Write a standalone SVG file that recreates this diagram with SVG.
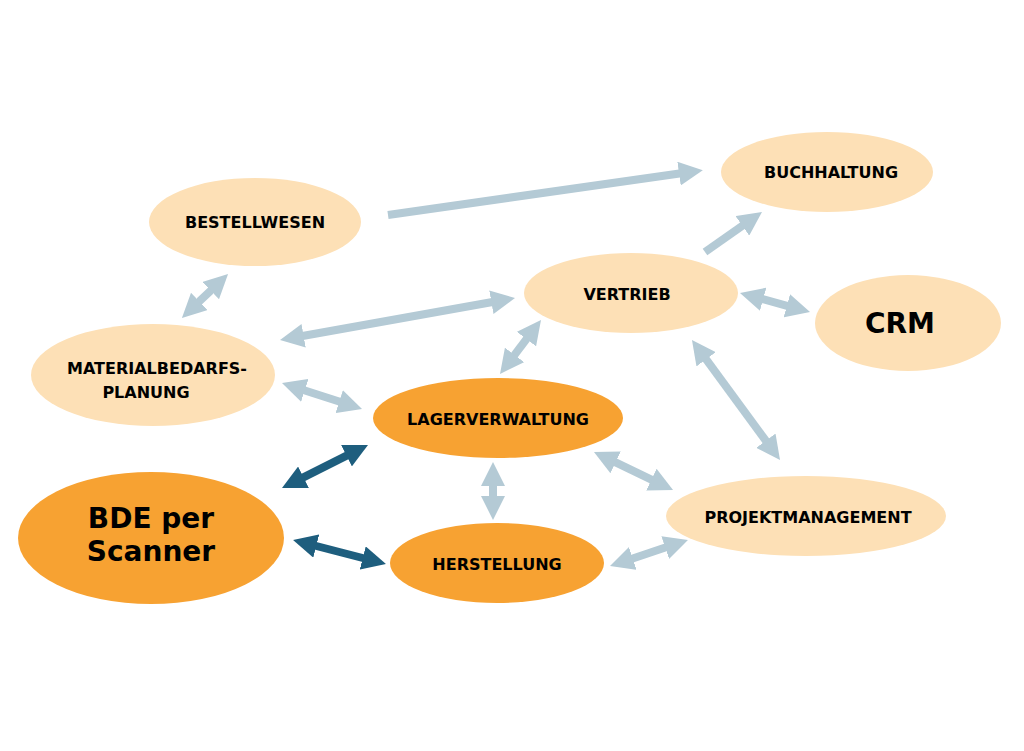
<svg xmlns="http://www.w3.org/2000/svg" width="1024" height="751" viewBox="0 0 1024 751">
<style>
.l{fill:#fde0b6}.o{fill:#f7a232}
text{font-family:"DejaVu Sans",Verdana,sans-serif;font-weight:bold;fill:#000;text-anchor:middle}
.s{font-size:16px}.b{font-size:28px}
.a{stroke:#b4cad5;stroke-width:8;fill:none}
.d{stroke:#1e5e7e;stroke-width:8;fill:none}
</style>
<defs>
<marker id="h" markerUnits="strokeWidth" markerWidth="3" markerHeight="3" viewBox="0 -1.5 3 3" refX="0.5" refY="0" orient="auto-start-reverse"><path d="M0,-1.5L3,0L0,1.5z" fill="#b4cad5"/></marker>
<marker id="hd" markerUnits="strokeWidth" markerWidth="3" markerHeight="3" viewBox="0 -1.5 3 3" refX="0.5" refY="0" orient="auto-start-reverse"><path d="M0,-1.5L3,0L0,1.5z" fill="#1e5e7e"/></marker>
</defs>
<rect width="1024" height="751" fill="#fff"/>
<g id="connectors">
<line class="a" x1="388" y1="215" x2="683" y2="173" marker-end="url(#h)"/>
<line class="a" x1="705" y1="252" x2="745.6" y2="223.5" marker-end="url(#h)"/>
<line class="a" x1="196.4" y1="304.2" x2="213.6" y2="287.8" marker-start="url(#h)" marker-end="url(#h)"/>
<line class="a" x1="299.7" y1="336.5" x2="495.3" y2="301.5" marker-start="url(#h)" marker-end="url(#h)"/>
<line class="a" x1="759.3" y1="298.2" x2="790.7" y2="306.8" marker-start="url(#h)" marker-end="url(#h)"/>
<line class="a" x1="512.1" y1="358.1" x2="528.9" y2="335.9" marker-start="url(#h)" marker-end="url(#h)"/>
<line class="a" x1="301" y1="389.2" x2="343" y2="402.8" marker-start="url(#h)" marker-end="url(#h)"/>
<line class="a" x1="703.8" y1="356.1" x2="768.2" y2="443.9" marker-start="url(#h)" marker-end="url(#h)"/>
<line class="d" x1="299.9" y1="479.1" x2="350.1" y2="453.9" marker-start="url(#hd)" marker-end="url(#hd)"/>
<line class="d" x1="312.4" y1="545" x2="366.6" y2="559" marker-start="url(#hd)" marker-end="url(#hd)"/>
<line class="a" x1="493" y1="482" x2="493" y2="500" marker-start="url(#h)" marker-end="url(#h)"/>
<line class="a" x1="612" y1="460.7" x2="655" y2="481.3" marker-start="url(#h)" marker-end="url(#h)"/>
<line class="a" x1="629" y1="559.7" x2="669" y2="546.3" marker-start="url(#h)" marker-end="url(#h)"/>
</g>
<g id="bestellwesen"><ellipse class="l" cx="255" cy="222" rx="106" ry="44"/><text class="s" x="255" y="228">BESTELLWESEN</text></g>
<g id="buchhaltung"><ellipse class="l" cx="827" cy="172" rx="106" ry="40"/><text class="s" x="831" y="178">BUCHHALTUNG</text></g>
<g id="vertrieb"><ellipse class="l" cx="631" cy="293" rx="107" ry="40"/><text class="s" x="627" y="300">VERTRIEB</text></g>
<g id="crm"><ellipse class="l" cx="908" cy="323" rx="93" ry="48"/><text class="b" x="900" y="333">CRM</text></g>
<g id="material"><ellipse class="l" cx="153" cy="375" rx="122" ry="51"/><text class="s" x="157" y="374">MATERIALBEDARFS-</text><text class="s" x="146" y="398">PLANUNG</text></g>
<g id="lager"><ellipse class="o" cx="498" cy="418" rx="125" ry="40"/><text class="s" x="498" y="425">LAGERVERWALTUNG</text></g>
<g id="bde"><ellipse class="o" cx="151" cy="538" rx="133" ry="66"/><text class="b" x="151" y="528">BDE per</text><text class="b" x="151" y="561">Scanner</text></g>
<g id="herstellung"><ellipse class="o" cx="497" cy="563" rx="107" ry="40"/><text class="s" x="497" y="570">HERSTELLUNG</text></g>
<g id="projekt"><ellipse class="l" cx="806" cy="516" rx="140" ry="40"/><text class="s" x="808" y="523">PROJEKTMANAGEMENT</text></g>
</svg>
